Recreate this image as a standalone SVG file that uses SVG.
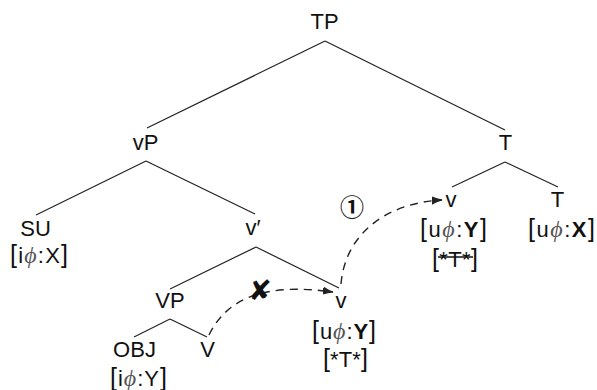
<svg xmlns="http://www.w3.org/2000/svg" width="597" height="390" viewBox="0 0 597 390">
<style>
text{font-family:"Liberation Sans",Arial,sans-serif;font-size:22px;fill:#111;text-anchor:middle}
text.f{text-anchor:start}
.br{font-size:25px}
.phi{font-family:"Liberation Serif","DejaVu Serif",serif;font-style:italic;fill:#555;font-size:24px}
.b{font-weight:bold}
.edge{stroke:#222;stroke-width:1.2;fill:none}
.dash{stroke:#222;stroke-width:1.4;fill:none;stroke-dasharray:8,6}
</style>
<defs>
<marker id="ah" markerWidth="12" markerHeight="10" refX="10" refY="5" orient="auto" markerUnits="userSpaceOnUse">
<path d="M0,1.5 Q5,4 10,5 Q5,6 0,8.5 Z" fill="#222" stroke="#222" stroke-width="1"/>
</marker>
</defs>
<g id="edges">
<line class="edge" x1="325" y1="41" x2="147" y2="128"/>
<line class="edge" x1="325" y1="41" x2="505" y2="130"/>
<line class="edge" x1="146" y1="161" x2="36" y2="215"/>
<line class="edge" x1="146" y1="161" x2="255" y2="214"/>
<line class="edge" x1="505" y1="162" x2="452" y2="187"/>
<line class="edge" x1="505" y1="162" x2="558" y2="187"/>
<line class="edge" x1="256" y1="247" x2="170" y2="289"/>
<line class="edge" x1="256" y1="247" x2="339" y2="288"/>
<line class="edge" x1="170" y1="319" x2="134" y2="337"/>
<line class="edge" x1="170" y1="319" x2="207" y2="337"/>
<path class="dash" d="M209,335 C226,300 262,282 333,292" marker-end="url(#ah)"/>
<path class="dash" d="M341,284 C345,235 385,203 442,200" marker-end="url(#ah)"/>
</g>
<g id="TP"><text x="324.5" y="29">TP</text></g>
<g id="vP"><text x="145.5" y="150">vP</text></g>
<g id="T1"><text x="505.5" y="150">T</text></g>
<g id="SU"><text x="35.5" y="236">SU</text><text class="f" x="10" y="263" textLength="58" lengthAdjust="spacing"><tspan class="br">[</tspan>i<tspan class="phi">ϕ</tspan>:X<tspan class="br">]</tspan></text></g>
<g id="vbar"><text x="253" y="235">v′</text></g>
<g id="vHigh"><text x="451" y="207">v</text><text class="f" x="420" y="237" textLength="67" lengthAdjust="spacing"><tspan class="br">[</tspan>u<tspan class="phi">ϕ</tspan>:<tspan class="b">Y</tspan><tspan class="br">]</tspan></text><text class="f" x="432" y="267" textLength="46" lengthAdjust="spacing"><tspan class="br">[</tspan>*T*<tspan class="br">]</tspan></text><line x1="438" y1="257" x2="473" y2="257" stroke="#111" stroke-width="1.4"/></g>
<g id="T2"><text x="557.5" y="207">T</text><text class="f" x="528" y="237" textLength="67" lengthAdjust="spacing"><tspan class="br">[</tspan>u<tspan class="phi">ϕ</tspan>:<tspan class="b">X</tspan><tspan class="br">]</tspan></text></g>
<g id="VP"><text x="170" y="308">VP</text></g>
<g id="vLow"><text x="341" y="308">v</text><text class="f" x="312" y="339" textLength="64" lengthAdjust="spacing"><tspan class="br">[</tspan>u<tspan class="phi">ϕ</tspan>:<tspan class="b">Y</tspan><tspan class="br">]</tspan></text><text class="f" x="323" y="367" textLength="45" lengthAdjust="spacing"><tspan class="br">[</tspan>*T*<tspan class="br">]</tspan></text></g>
<g id="OBJ"><text x="134.5" y="357">OBJ</text><text class="f" x="110" y="386" textLength="57" lengthAdjust="spacing"><tspan class="br">[</tspan>i<tspan class="phi">ϕ</tspan>:Y<tspan class="br">]</tspan></text></g>
<g id="V"><text x="207.5" y="357">V</text></g>
<g id="marks">
<text x="260" y="300" style="font-family:'DejaVu Sans',sans-serif;font-size:28px;font-weight:bold">✘</text>
<text x="352" y="216" style="font-family:'Noto Sans CJK JP','DejaVu Sans',sans-serif;font-size:24px;font-weight:bold">①</text>
</g>
</svg>
